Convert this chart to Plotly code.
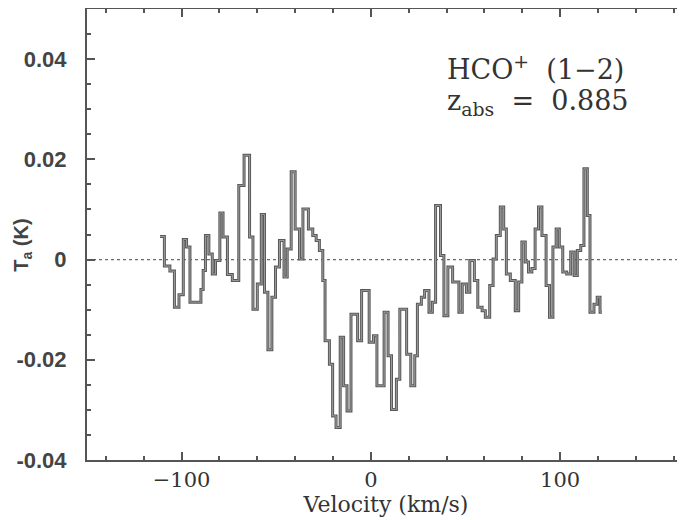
import plotly.graph_objects as go

# Channel start velocities (km/s) and antenna temperatures (K)
velocity = [-111.4, -109.1, -106.2, -103.8, -101.4, -99.1, -97.4, -95.6, -89.8, -88.6,
            -87.4, -85.6, -83.8, -82.1, -79.8, -78.1, -75.8, -73.2, -69.8, -67.0,
            -64.1, -62.3, -60.0, -57.9, -56.2, -54.4, -52.3, -50.4, -48.3, -45.9,
            -44.2, -42.1, -40.0, -37.7, -35.9, -33.0, -30.7, -28.9, -27.2, -25.4,
            -24.2, -21.9, -20.2, -18.4, -16.2, -14.4, -12.6, -10.5, -7.0, -4.9,
            -0.9, 1.4, 3.2, 7.0, 9.1, 10.9, 13.5, 15.3, 18.9, 21.1,
            23.2, 24.6, 26.7, 28.4, 30.7, 32.5, 34.2, 36.8, 38.6, 40.7,
            43.2, 46.5, 48.3, 50.5, 52.3, 54.7, 56.5, 58.8, 60.5, 62.8,
            64.6, 66.3, 68.4, 70.2, 71.6, 73.7, 76.3, 78.1, 79.8, 81.6,
            83.3, 85.1, 86.8, 88.6, 90.4, 92.6, 94.4, 96.2, 97.9, 99.6,
            101.4, 103.5, 105.6, 107.4, 109.1, 110.9, 112.6, 114.4, 115.8, 117.9,
            119.6, 121.1]
t_antenna = [0.0046, -0.0013, -0.0023, -0.0095, -0.0070, 0.0040, 0.0025, -0.0085, -0.0060, -0.0022,
             0.0048, 0.0011, -0.0029, -0.0002, 0.0093, 0.0045, -0.0030, -0.0042, 0.0148, 0.0208,
             0.0045, -0.0099, -0.0049, 0.0090, -0.0065, -0.0180, -0.0075, -0.0015, 0.0038, -0.0035,
             0.0021, 0.0175, 0.0061, 0.0001, 0.0101, 0.0061, 0.0048, 0.0038, 0.0018, -0.0042,
             -0.0162, -0.0209, -0.0312, -0.0335, -0.0155, -0.0252, -0.0302, -0.0109, -0.0162, -0.0062,
             -0.0165, -0.0152, -0.0252, -0.0105, -0.0192, -0.0299, -0.0239, -0.0099, -0.0189, -0.0252,
             -0.0192, -0.0089, -0.0075, -0.0062, -0.0105, -0.0085, 0.0108, 0.0008, -0.0112, -0.0015,
             -0.0045, -0.0105, -0.0049, -0.0065, -0.0002, -0.0042, -0.0095, -0.0102, -0.0115, -0.0052,
             0.0001, 0.0048, 0.0105, 0.0061, -0.0029, -0.0042, -0.0102, -0.0045, 0.0035, -0.0005,
             -0.0025, -0.0018, 0.0061, 0.0105, 0.0048, -0.0052, -0.0115, 0.0025, 0.0061, 0.0025,
             -0.0025, -0.0029, 0.0015, -0.0032, 0.0018, 0.0028, 0.0181, 0.0088, -0.0105, -0.0089,
             -0.0075, -0.0105]
velocity_end = 122.1

y_tickvals = [-0.04, -0.02, 0, 0.02, 0.04]
y_ticktext = ["-0.04", "-0.02", "0", "0.02", "0.04"]
x_tickvals = [-100, 0, 100]
x_ticktext = ["\u2212100", "0", "100"]

x_steps = velocity + [velocity_end]
y_steps = t_antenna + [t_antenna[-1]]

fig = go.Figure()
fig.add_trace(go.Scatter(x=x_steps, y=y_steps, mode="lines", line_shape="hv",
                         line=dict(color="#5a5a5a", width=3.0), hoverinfo="skip"))
fig.add_trace(go.Scatter(x=x_steps, y=y_steps, mode="lines", line_shape="hv",
                         line=dict(color="#a4a4a4", width=0.9), hoverinfo="skip"))

fig.add_shape(type="line", xref="paper", yref="y", x0=0, x1=1, y0=0, y1=0,
              line=dict(color="#6a6a6a", width=1.3, dash="dot"), layer="below")

serif = "DejaVu Serif"
fig.add_annotation(x=39, y=0.0384, xref="x", yref="y", xanchor="left", yanchor="middle",
                   text="HCO<sup>+</sup>\u00a0\u00a0(1\u22122)", showarrow=False,
                   font=dict(family=serif, size=27, color="#333"))
fig.add_annotation(x=39, y=0.0313, xref="x", yref="y", xanchor="left", yanchor="middle",
                   text="z<sub>abs</sub>\u00a0\u00a0=\u00a0\u00a00.885", showarrow=False,
                   font=dict(family=serif, size=27, color="#333"))
fig.add_annotation(x=-0.108, y=0.476, xref="paper", yref="paper", xanchor="center", yanchor="middle",
                   text="T<sub>a</sub> (K)", textangle=-90, showarrow=False,
                   font=dict(family="Liberation Sans", size=20, color="#444", weight="bold"))

axis_col = "#555"
# page body has an 8px margin, so the figure is sized to fill the rest of the window
fig.update_layout(
    width=677, height=512,
    margin=dict(l=79, r=0, t=1, b=60, autoexpand=False),
    paper_bgcolor="white", plot_bgcolor="white",
    showlegend=False,
    xaxis=dict(range=[-150, 166], showgrid=False, zeroline=False, automargin=False,
               showline=True, linecolor=axis_col, linewidth=2, mirror="ticks",
               ticks="inside", ticklen=8, tickwidth=1.5, tickcolor=axis_col,
               tickvals=x_tickvals, ticktext=x_ticktext,
               minor=dict(dtick=20, tick0=0, ticks="inside", ticklen=4, tickwidth=1.5, tickcolor=axis_col),
               tickfont=dict(family=serif, size=21, color="#333"),
               title=dict(text="Velocity (km/s)", font=dict(family=serif, size=22, color="#333"), standoff=0)),
    yaxis=dict(range=[-0.04, 0.05], showgrid=False, zeroline=False, automargin=False,
               showline=True, linecolor=axis_col, linewidth=2, mirror=False,
               ticks="inside", ticklen=8, tickwidth=1.5, tickcolor=axis_col,
               tickvals=y_tickvals, ticktext=y_ticktext,
               minor=dict(dtick=0.005, tick0=0, ticks="inside", ticklen=4, tickwidth=1.5, tickcolor=axis_col),
               tickfont=dict(family="Liberation Sans", size=22, color="#444", weight="bold"),
               ticklabelstandoff=14),
)

fig.write_html("out.html")
